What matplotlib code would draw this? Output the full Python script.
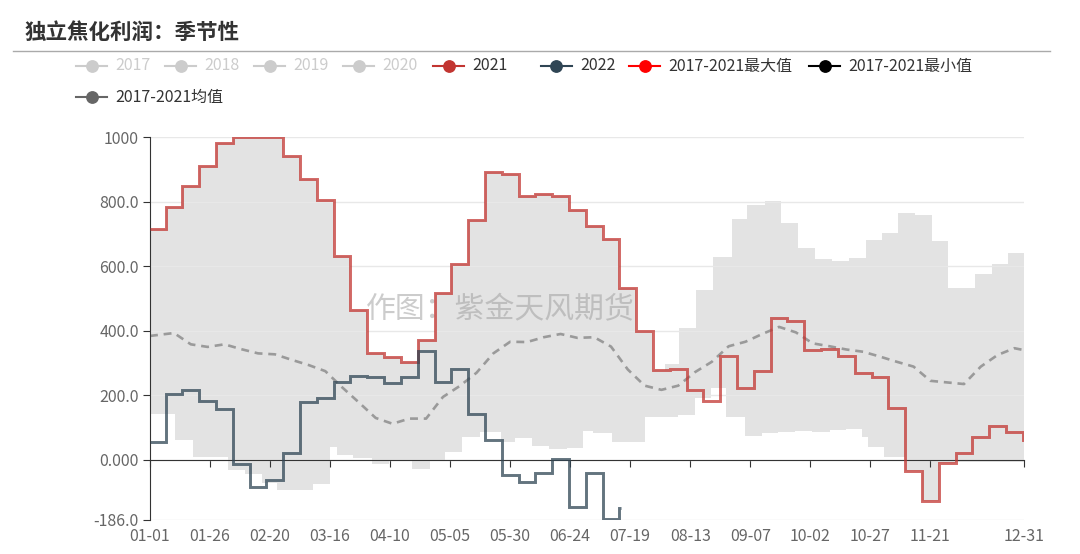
import numpy as np
import matplotlib
matplotlib.use("Agg")
import matplotlib.pyplot as plt
from matplotlib.lines import Line2D

plt.rcParams["font.family"] = ["Noto Sans CJK SC", "DejaVu Sans"]

# weekly values (one value per week, index 0 = first week of Jan)
val_2021 = [716, 782, 848, 911, 981, 1000, 1000, 1000, 941, 870, 804, 632, 464, 330,
            320, 303, 371, 518, 606, 743, 891, 885, 818, 825, 817, 774, 725, 683, 531,
            399, 279, 282, 217, 184, 323, 222, 276, 440, 430, 341, 344, 322, 270, 258,
            160, -34, -127, -8, 21, 72, 105, 88, 62]
val_2022 = [57, 203, 217, 183, 157, -13, -85, -62, 21, 179, 191, 242, 260, 256, 237,
            256, 337, 242, 281, 141, 62, -46, -67, -41, 2, -146, -41, -184, -150]

# 2017-2021 mean, roughly one reading per week
mean_vals = [384, 393, 358, 350, 358, 343, 330, 327, 310, 294, 275, 225, 178, 130, 112,
             128, 128, 195, 229, 270, 330, 366, 365, 380, 390, 378, 380, 351, 280, 230,
             217, 230, 272, 304, 352, 366, 390, 412, 395, 361, 352, 342, 335, 320, 304,
             289, 245, 240, 235, 289, 325, 346, 340]

# 2017-2021 max envelope after 2021 stops being the max (day of year, value)
upper_tail_days = [209.5, 214.5, 220.5, 227.5, 234.5, 242.5, 248.5, 256, 263, 270, 277,
                   284, 291, 298, 305, 311.5, 318.5, 325.5, 332.5, 343.5, 350.5, 357.5]
upper_tail_vals = [279, 297, 408, 526, 629, 745, 789, 803, 735, 655, 621, 616, 626, 681,
                   702, 766, 758, 678, 531, 575, 607, 642]

# 2017-2021 min envelope (day of year, value)
lower_days = [0, 10.5, 18, 32.5, 39.5, 46.5, 53, 68, 75, 78, 84.5, 92.5, 99.5, 109, 116.5,
              123, 130, 137.5, 146, 152, 159, 166, 173.5, 180.5, 184.5, 192.5, 206, 220,
              227, 233.5, 240, 248, 255, 261.5, 268.5, 275.5, 283, 290, 296.5, 299, 305.5,
              314.5, 321.5, 328.5, 335.5]
lower_vals = [141, 62, 10, -32, -43, -72, -93, -75, 39, 15, 5, -13, 0, -28, 0, 26, 72, 88,
              57, 67, 43, 33, 36, 90, 82, 57, 134, 139, 191, 222, 134, 74, 82, 88, 90, 86,
              93, 97, 72, 39, 8, -34, -127, -8, -5]

xtick_days = [0, 25, 50, 75, 100, 125, 150, 175, 200, 225, 250, 275, 300, 325, 364]
xtick_labels = ["01-01", "01-26", "02-20", "03-16", "04-10", "05-05", "05-30", "06-24",
                "07-19", "08-13", "09-07", "10-02", "10-27", "11-21", "12-31"]
ytick_vals = [-186, 0, 200, 400, 600, 800, 1000]
ytick_labels = ["-186.0", "0.000", "200.0", "400.0", "600.0", "800.0", "1000"]

W, H = 1080, 554
fig = plt.figure(figsize=(W / 100, H / 100), dpi=100)
ax = fig.add_axes([150 / W, 34 / H, 874 / W, 383 / H])

week_edges = np.r_[0, 6.5 + 7 * np.arange(52), 364]
ymin = ytick_vals[0]

# band between min and max
up_x = np.r_[week_edges[:30], upper_tail_days, 364]
up_y = np.r_[val_2021[:30], upper_tail_vals, upper_tail_vals[-1]]
ax.fill_between(up_x, up_y, ymin, step="post", color="#e3e3e3", lw=0, zorder=0.8)
lo_x = np.r_[lower_days, 364]
lo_y = np.r_[lower_vals, lower_vals[-1]]
ax.fill_between(lo_x, lo_y, ymin, step="post", color="white", lw=0, zorder=0.9)

# series
mean_days = np.r_[0, 7 * np.arange(1, 52) + 3, 364]
ax.plot(mean_days, mean_vals, color="#9a9a9a", lw=1.9, ls=(0, (3, 2.2)), zorder=2.5)
ax.stairs(val_2021, week_edges, baseline=None, color="#c23531", alpha=0.75, lw=2.1, zorder=3)
ax.stairs(val_2022, np.r_[week_edges[:29], 196], baseline=None, color="#2f4554",
          alpha=0.75, lw=2.1, zorder=3)

ax.text(500 / W, 1 - 310 / H, "作图：紫金天风期货", transform=fig.transFigure,
        ha="center", va="center", fontsize=21.5, color="#9a9a9a", alpha=0.5, zorder=1.2)

# axes
ax.set_xlim(0, 364)
ax.set_ylim(ymin, 1000)
ax.set_axisbelow("line")
ax.set_yticks(ytick_vals)
ax.set_yticklabels(ytick_labels)
ax.yaxis.grid(True, color="#e8e8e8", lw=1)
ax.set_xticks(xtick_days)
ax.tick_params(axis="x", length=5, color="#333333", labelbottom=False)
ax.tick_params(axis="y", length=5, color="#333333", labelcolor="#666666",
               labelsize=11.5, pad=3)
ax.spines["bottom"].set_position(("data", 0))
ax.spines["bottom"].set_color("#333333")
ax.spines["left"].set_color("#333333")
ax.spines["top"].set_visible(False)
ax.spines["right"].set_visible(False)

sec = ax.secondary_xaxis(0.0)
sec.set_xticks(xtick_days, labels=xtick_labels)
sec.tick_params(length=0, pad=6, labelcolor="#666666", labelsize=11.5)
sec.spines["bottom"].set_visible(False)

# title and separator
fig.text(25 / W, 1 - 32 / H, "独立焦化利润：季节性", fontsize=15.5, fontweight="bold",
         color="#333333", va="center", ha="left")
fig.add_artist(Line2D([13 / W, 1050 / W], [1 - 51 / H] * 2, color="#aaaaaa", lw=1))

# legend
legend_items = [
    (76, 66, "2017", "#cccccc", "#cccccc"),
    (165, 66, "2018", "#cccccc", "#cccccc"),
    (254, 66, "2019", "#cccccc", "#cccccc"),
    (343, 66, "2020", "#cccccc", "#cccccc"),
    (433, 66, "2021", "#c23531", "#333333"),
    (541, 66, "2022", "#2f4554", "#333333"),
    (629, 66, "2017-2021最大值", "#ff0000", "#333333"),
    (809, 66, "2017-2021最小值", "#000000", "#333333"),
    (76, 97, "2017-2021均值", "#666666", "#333333"),
]
for x0, y0, label, c, tc in legend_items:
    yy = 1 - y0 / H
    fig.add_artist(Line2D([x0 / W, (x0 + 31) / W], [yy, yy], color=c, lw=1.5))
    fig.add_artist(Line2D([(x0 + 15.5) / W], [yy], marker="o", ms=8.2, color=c, mec=c))
    fig.text((x0 + 39) / W, yy, label, fontsize=11.5, color=tc, va="center", ha="left")

fig.savefig("out.png", dpi=100)
